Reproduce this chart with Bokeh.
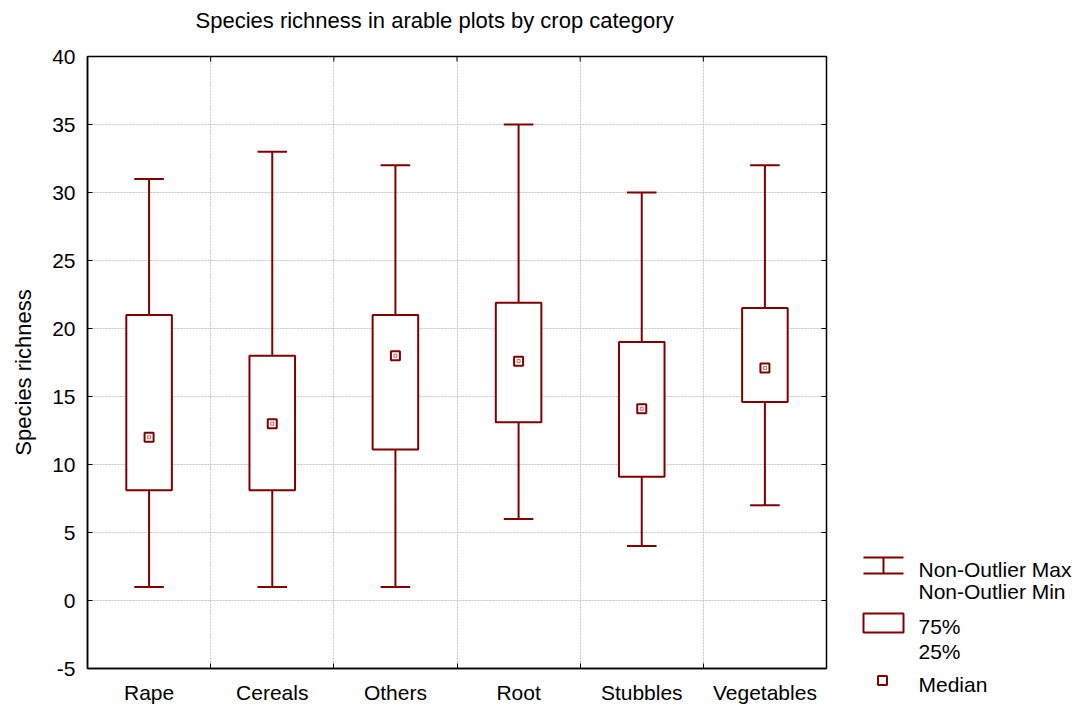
import numpy as np
from bokeh.plotting import figure
from bokeh.layouts import row, column
from bokeh.models import FixedTicker, Range1d
from bokeh.embed import file_html
from bokeh.resources import INLINE
from bokeh.core.properties import value

# ---------------- data ----------------
categories = ["Rape", "Cereals", "Others", "Root", "Stubbles", "Vegetables"]
whisker_min = [1, 1, 1, 6, 4, 7]
q1 = [8.1, 8.1, 11.1, 13.1, 9.1, 14.6]
median = [12, 13, 18, 17.6, 14.1, 17.1]
q3 = [21, 18, 21, 21.9, 19, 21.5]
whisker_max = [31, 33, 32, 35, 30, 32]
y_ticks = [-5, 0, 5, 10, 15, 20, 25, 30, 35, 40]
y_tick_labels = ["-5", "0", "5", "10", "15", "20", "25", "30", "35", "40"]
legend_labels = ["Non-Outlier Max", "Non-Outlier Min", "75%", "25%", "Median"]
title_text = "Species richness in arable plots by crop category"
y_label_text = "Species richness"

FONT = "Liberation Sans"
RED = "#800000"

n = len(categories)
xc = list(np.arange(n) + 0.5)
bounds = list(np.arange(1, n))
y0, y1 = -5, 40

TOP_H = 36          # height of the title strip
YL_W = 40           # width of the y-label strip
W, H = 788, 709 - TOP_H
ML, MR, MT, MB = 47, 2, 56 - TOP_H, 41
frame_w = W - ML - MR
frame_h = H - MT - MB


def blank(width, height, xr, yr):
    f = figure(width=width, height=height, x_range=Range1d(*xr), y_range=Range1d(*yr),
               output_backend="svg", toolbar_location=None, min_border=0,
               x_axis_type=None, y_axis_type=None, title=None)
    f.grid.visible = False
    f.outline_line_color = None
    return f


# ---------------- main plot ----------------
p = figure(width=W, height=H, x_range=Range1d(0, n), y_range=Range1d(y0, y1),
           output_backend="svg", toolbar_location=None, title=None,
           min_border_left=ML, min_border_right=MR, min_border_top=MT, min_border_bottom=MB)

p.outline_line_color = "black"
p.outline_line_width = 1.5

xa = p.xaxis[0]
xa.ticker = FixedTicker(ticks=xc, minor_ticks=bounds)
xa.major_label_overrides = {float(x): c for x, c in zip(xc, categories)}
xa.major_tick_in = 0
xa.major_tick_out = 0
xa.minor_tick_in = 5
xa.minor_tick_out = 0
xa.minor_tick_line_color = "black"
xa.axis_line_width = 1.5
xa.major_label_text_font = FONT
xa.major_label_text_font_size = "21px"
xa.major_label_text_color = "black"
xa.major_label_standoff = 12

ya = p.yaxis[0]
ya.ticker = FixedTicker(ticks=y_ticks)
ya.major_label_overrides = {t: s for t, s in zip(y_ticks, y_tick_labels)}
ya.major_tick_in = 5
ya.major_tick_out = 0
ya.minor_tick_line_color = None
ya.axis_line_width = 1.5
ya.major_label_text_font = FONT
ya.major_label_text_font_size = "21px"
ya.major_label_text_color = "black"
ya.major_label_standoff = 12

p.xgrid.ticker = FixedTicker(ticks=bounds)
p.ygrid.ticker = FixedTicker(ticks=y_ticks)
for g in (p.xgrid, p.ygrid):
    g.grid_line_color = "#c4c4c4"
    g.grid_line_dash = "2 1"
    g.grid_line_width = 1

# inward ticks on the top and right frame edges
tick_px = 5
ty = tick_px * (y1 - y0) / frame_h
tx = tick_px * n / frame_w
p.segment(x0=bounds, y0=[y1] * len(bounds), x1=bounds, y1=[y1 - ty] * len(bounds),
          line_color="black", line_width=1)
p.segment(x0=[n] * len(y_ticks), y0=y_ticks, x1=[n - tx] * len(y_ticks), y1=y_ticks,
          line_color="black", line_width=1)

box_w = 0.37
cap_w = 0.24
p.segment(x0=xc, y0=q3, x1=xc, y1=whisker_max, line_color=RED, line_width=2)
p.segment(x0=xc, y0=q1, x1=xc, y1=whisker_min, line_color=RED, line_width=2)
p.segment(x0=[x - cap_w / 2 for x in xc], y0=whisker_max, x1=[x + cap_w / 2 for x in xc],
          y1=whisker_max, line_color=RED, line_width=2)
p.segment(x0=[x - cap_w / 2 for x in xc], y0=whisker_min, x1=[x + cap_w / 2 for x in xc],
          y1=whisker_min, line_color=RED, line_width=2)
p.vbar(x=xc, width=box_w, top=q3, bottom=q1, fill_color="white", line_color=RED, line_width=2)
p.scatter(x=xc, y=median, marker="square", size=9, fill_color="white", line_color=RED, line_width=2)
p.scatter(x=xc, y=median, marker="square", size=3, fill_color=None, line_color="#c06060", line_width=1)

# ---------------- title strip (page pixel coordinates) ----------------
tf = blank(YL_W + W, TOP_H, (0, YL_W + W), (TOP_H, 0))
tf.text(x=[195], y=[20], text=[title_text], text_font=value(FONT), text_font_size="22px",
        text_baseline="middle", text_align="left", text_color="black")

# ---------------- y-label strip ----------------
yl = blank(YL_W, H, (0, YL_W), (TOP_H + H, TOP_H))
yl.text(x=[23], y=[372], text=[y_label_text], angle=np.pi / 2, text_font=value(FONT),
        text_font_size="22px", text_baseline="middle", text_align="center", text_color="black")

# ---------------- legend panel ----------------
LW = 245
lg = blank(LW, H, (0, LW), (TOP_H + H, TOP_H))
lg.segment(x0=[35, 35, 55], y0=[557, 573, 557], x1=[75, 75, 55], y1=[557, 573, 573],
           line_color=RED, line_width=2)
lg.quad(left=[35], right=[75], top=[613], bottom=[632], fill_color="white",
        line_color=RED, line_width=2)
lg.scatter(x=[54], y=[680], marker="square", size=9, fill_color="white", line_color=RED, line_width=2)
lg.text(x=[90] * 5, y=[569, 591, 626, 651, 684], text=legend_labels,
        text_font=value(FONT), text_font_size="21px", text_baseline="middle",
        text_align="left", text_color="black")

# each plot wrapped in its own column so that plot frames are not aligned to each other
layout = column(column(tf), row(column(yl), column(p), column(lg), spacing=0), spacing=0)

open("out.html", "w").write(file_html(layout, INLINE))
